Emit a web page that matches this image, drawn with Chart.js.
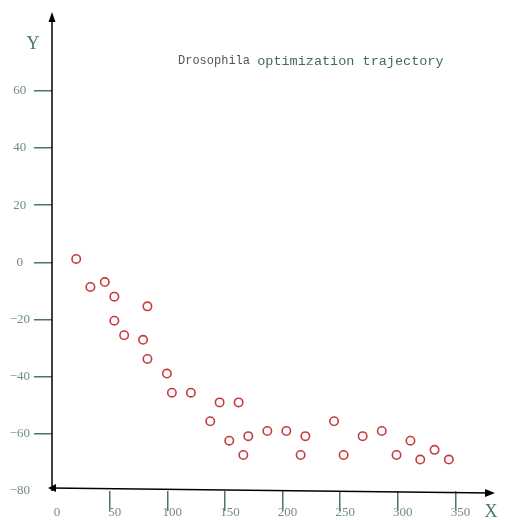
<!DOCTYPE html>
<html>
<head>
<meta charset="utf-8">
<script src="https://cdn.jsdelivr.net/npm/chart.js@4/dist/chart.umd.min.js"></script>
<style>
  html, body { margin: 0; padding: 0; background: #ffffff; }
  #wrap { width: 505px; height: 520px; }
</style>
</head>
<body>
<div id="wrap"><canvas id="c" width="505" height="520"></canvas></div>
<script>
// Trajectory samples (x = iteration, y = objective value)
const xValues = [21, 33.3, 45.8, 54.1, 54.1, 62.6, 79, 82.8, 82.8, 99.7, 104, 120.5, 137.3, 145.4, 153.8, 161.9,
  166, 170.3, 186.8, 203.3, 215.7, 219.8, 244.7, 253, 269.5, 286.1, 298.9, 311, 319.5, 331.9, 344.3];
const yValues = [1.2, -8.6, -6.9, -12, -20.4, -25.5, -27.1, -15.4, -33.8, -38.9, -45.6, -45.6, -55.6, -49, -62.4, -49,
  -67.4, -60.8, -59, -59, -67.4, -60.8, -55.6, -67.4, -60.8, -59, -67.4, -62.4, -69, -65.6, -69];

const xTicks = [0, 50, 100, 150, 200, 250, 300, 350];
const yTicks = [-80, -60, -40, -20, 0, 20, 40, 60];

const titleLead = 'Drosophila';
const titleRest = 'optimization trajectory';
const xTitle = 'X';
const yTitle = 'Y';

const points = xValues.map((x, i) => ({ x: x, y: yValues[i] }));

const labelColor = '#6f8f7b';
const tickColor = '#4d7560';

// typographic minus for negative tick labels
const fmt = v => String(v).replace('-', '\u2212');

// Axis lines with arrow heads, axis letters and the two-tone heading
const decorations = {
  id: 'decorations',
  afterDraw(chart) {
    const ctx = chart.ctx;
    const xs = chart.scales.x, ys = chart.scales.y;
    const x0 = xs.getPixelForValue(xs.min);
    const x1 = xs.getPixelForValue(xs.max);
    const yb = ys.getPixelForValue(ys.min);
    const yt = ys.getPixelForValue(ys.max);
    ctx.save();
    ctx.strokeStyle = '#000';
    ctx.fillStyle = '#000';
    ctx.lineWidth = 1.5;
    // vertical axis
    ctx.beginPath();
    ctx.moveTo(x0, yb);
    ctx.lineTo(x0, yt - 2);
    ctx.stroke();
    ctx.beginPath();
    ctx.moveTo(x0, yt - 6);
    ctx.lineTo(x0 - 3.5, yt + 4);
    ctx.lineTo(x0 + 3.5, yt + 4);
    ctx.closePath();
    ctx.fill();
    // horizontal axis (slight slope, as drawn by hand)
    const la = { x: x0 - 2, y: yb - 3 };
    const ra = { x: x1 + 2, y: yb + 2 };
    ctx.beginPath();
    ctx.moveTo(la.x, la.y);
    ctx.lineTo(ra.x, ra.y);
    ctx.stroke();
    ctx.beginPath();
    ctx.moveTo(ra.x + 3, ra.y);
    ctx.lineTo(ra.x - 7, ra.y - 4);
    ctx.lineTo(ra.x - 7, ra.y + 4);
    ctx.closePath();
    ctx.fill();
    ctx.beginPath();
    ctx.moveTo(la.x - 2, la.y);
    ctx.lineTo(la.x + 6, la.y - 4);
    ctx.lineTo(la.x + 6, la.y + 4);
    ctx.closePath();
    ctx.fill();

    // axis letters
    ctx.fillStyle = '#4a7a5c';
    ctx.font = '18px "Liberation Serif", serif';
    ctx.textBaseline = 'middle';
    ctx.textAlign = 'center';
    ctx.fillText(yTitle, 33, 44);
    ctx.fillText(xTitle, 491, 512);

    // heading
    ctx.textAlign = 'left';
    ctx.textBaseline = 'middle';
    ctx.font = '12px "Liberation Mono", monospace';
    ctx.fillStyle = '#555555';
    ctx.fillText(titleLead, 178, 61);
    const w = ctx.measureText(titleLead + ' ').width;
    ctx.font = '13.5px "Liberation Mono", monospace';
    ctx.fillStyle = '#3f6f50';
    ctx.fillText(titleRest, 178 + w, 61);
    ctx.restore();
  }
};

new Chart(document.getElementById('c'), {
  type: 'scatter',
  data: {
    datasets: [{
      data: points,
      pointStyle: 'circle',
      pointRadius: 4.2,
      pointBorderWidth: 1.6,
      borderColor: '#c83a3f',
      backgroundColor: 'rgba(255,255,255,0)',
      pointHoverRadius: 4.2
    }]
  },
  options: {
    responsive: false,
    animation: false,
    events: [],
    layout: { padding: { top: 18, right: 15, left: 0, bottom: 0 } },
    plugins: { legend: { display: false }, title: { display: false }, tooltip: { enabled: false } },
    scales: {
      x: {
        type: 'linear',
        min: 0,
        max: 380,
        afterFit(scale) { scale.height = 29; },
        afterBuildTicks(scale) { scale.ticks = xTicks.map(v => ({ value: v })); },
        border: { display: false },
        grid: {
          drawOnChartArea: false,
          drawTicks: true,
          tickLength: 20,
          lineWidth: 1.5,
          color: ctx => (ctx.tick && ctx.tick.value === 0) ? 'rgba(0,0,0,0)' : tickColor
        },
        ticks: {
          autoSkip: false,
          maxRotation: 0,
          padding: -6,
          labelOffset: 5,
          color: labelColor,
          font: { family: '"Liberation Serif", serif', size: 13 },
          callback: v => fmt(v)
        }
      },
      y: {
        type: 'linear',
        min: -80,
        max: 85.5,
        afterFit(scale) { scale.width = 52; },
        afterBuildTicks(scale) { scale.ticks = yTicks.map(v => ({ value: v })); },
        border: { display: false },
        grid: {
          drawOnChartArea: false,
          drawTicks: true,
          tickLength: 18,
          lineWidth: 1.5,
          color: ctx => (ctx.tick && ctx.tick.value === -80) ? 'rgba(0,0,0,0)' : tickColor
        },
        ticks: {
          autoSkip: false,
          crossAlign: 'center',
          padding: 4,
          color: labelColor,
          font: { family: '"Liberation Serif", serif', size: 13 },
          callback: v => fmt(v)
        }
      }
    }
  },
  plugins: [decorations]
});
</script>
</body>
</html>
